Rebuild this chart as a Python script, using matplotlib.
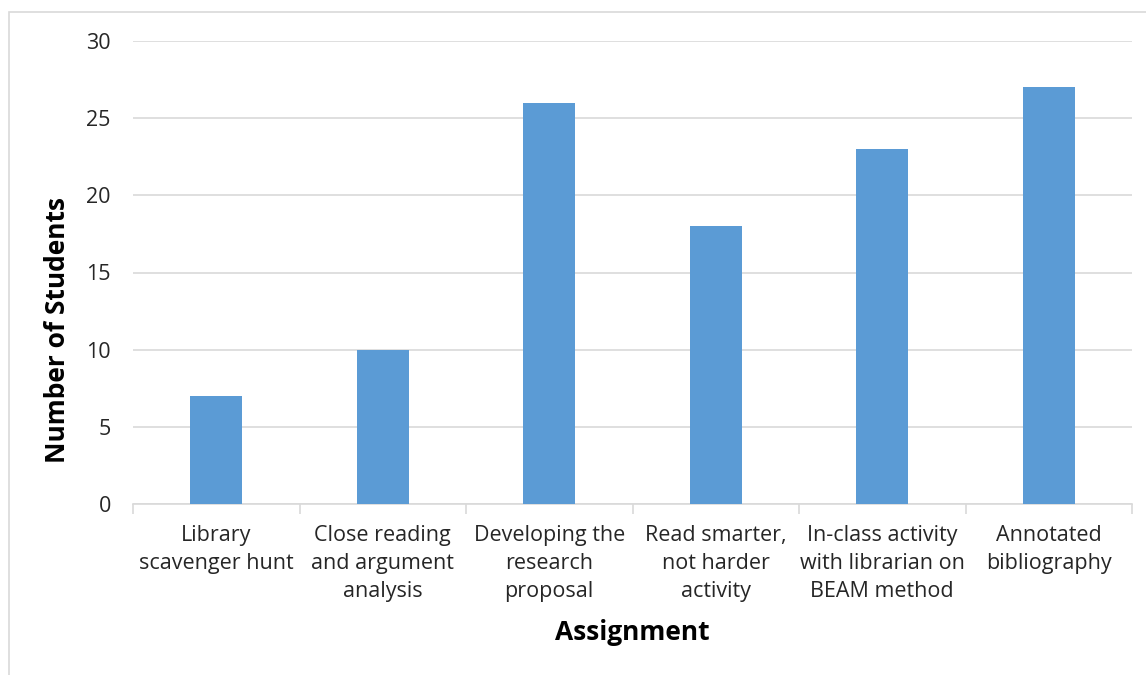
import numpy as np
import matplotlib.pyplot as plt
from matplotlib.patches import Rectangle

plt.rcParams['font.family'] = ['Open Sans', 'DejaVu Sans']

categories = ["Library\nscavenger hunt", "Close reading\nand argument\nanalysis",
              "Developing the\nresearch\nproposal", "Read smarter,\nnot harder\nactivity",
              "In-class activity\nwith librarian on\nBEAM method", "Annotated\nbibliography"]
students = [7, 10, 26, 18, 23, 27]
yticks = [0, 5, 10, 15, 20, 25, 30]

fig = plt.figure(figsize=(11.46, 6.75), dpi=100)
ax = fig.add_axes([133/1146, 1 - 504/675, 999/1146, 463/675])

# chart border (top and left visible)
fig.patches.append(Rectangle((9/1146, -0.1), 1.2, 1 - 12/675 + 0.1, transform=fig.transFigure,
                             fill=False, edgecolor='#d9d9d9', linewidth=1.2))

x = np.arange(len(categories))
ax.bar(x, students, width=0.31, color='#5B9BD5', zorder=3)

ax.set_xlim(-0.5, len(categories) - 0.5)
ax.set_ylim(0, 30)
ax.set_yticks(yticks)
ax.yaxis.grid(True, color='#d9d9d9', linewidth=1.2, zorder=0)

for s in ['top', 'right', 'left']:
    ax.spines[s].set_visible(False)
ax.spines['bottom'].set_color('#d9d9d9')
ax.spines['bottom'].set_linewidth(1.2)

ax.set_xticks(x)
ax.set_xticklabels(categories, fontsize=15.5, color='#262626', linespacing=1.45)
ax.set_xticks(np.arange(-0.5, len(categories)), minor=True)
ax.tick_params(axis='x', which='major', length=0, pad=15)
ax.tick_params(axis='x', which='minor', length=7, color='#d9d9d9', width=1.2)
ax.tick_params(axis='y', length=0, pad=16, labelsize=15.5, labelcolor='#262626')
for lbl in ax.get_xticklabels():
    lbl.set_verticalalignment('top')

ax.set_xlabel("Assignment", fontsize=19, fontweight='bold', color='black', labelpad=12)
ax.set_ylabel("Number of Students", fontsize=19, fontweight='bold', color='black', labelpad=7)
ax.yaxis.set_label_coords(-0.062, 0.376)

fig.savefig("out.png", dpi=100)
